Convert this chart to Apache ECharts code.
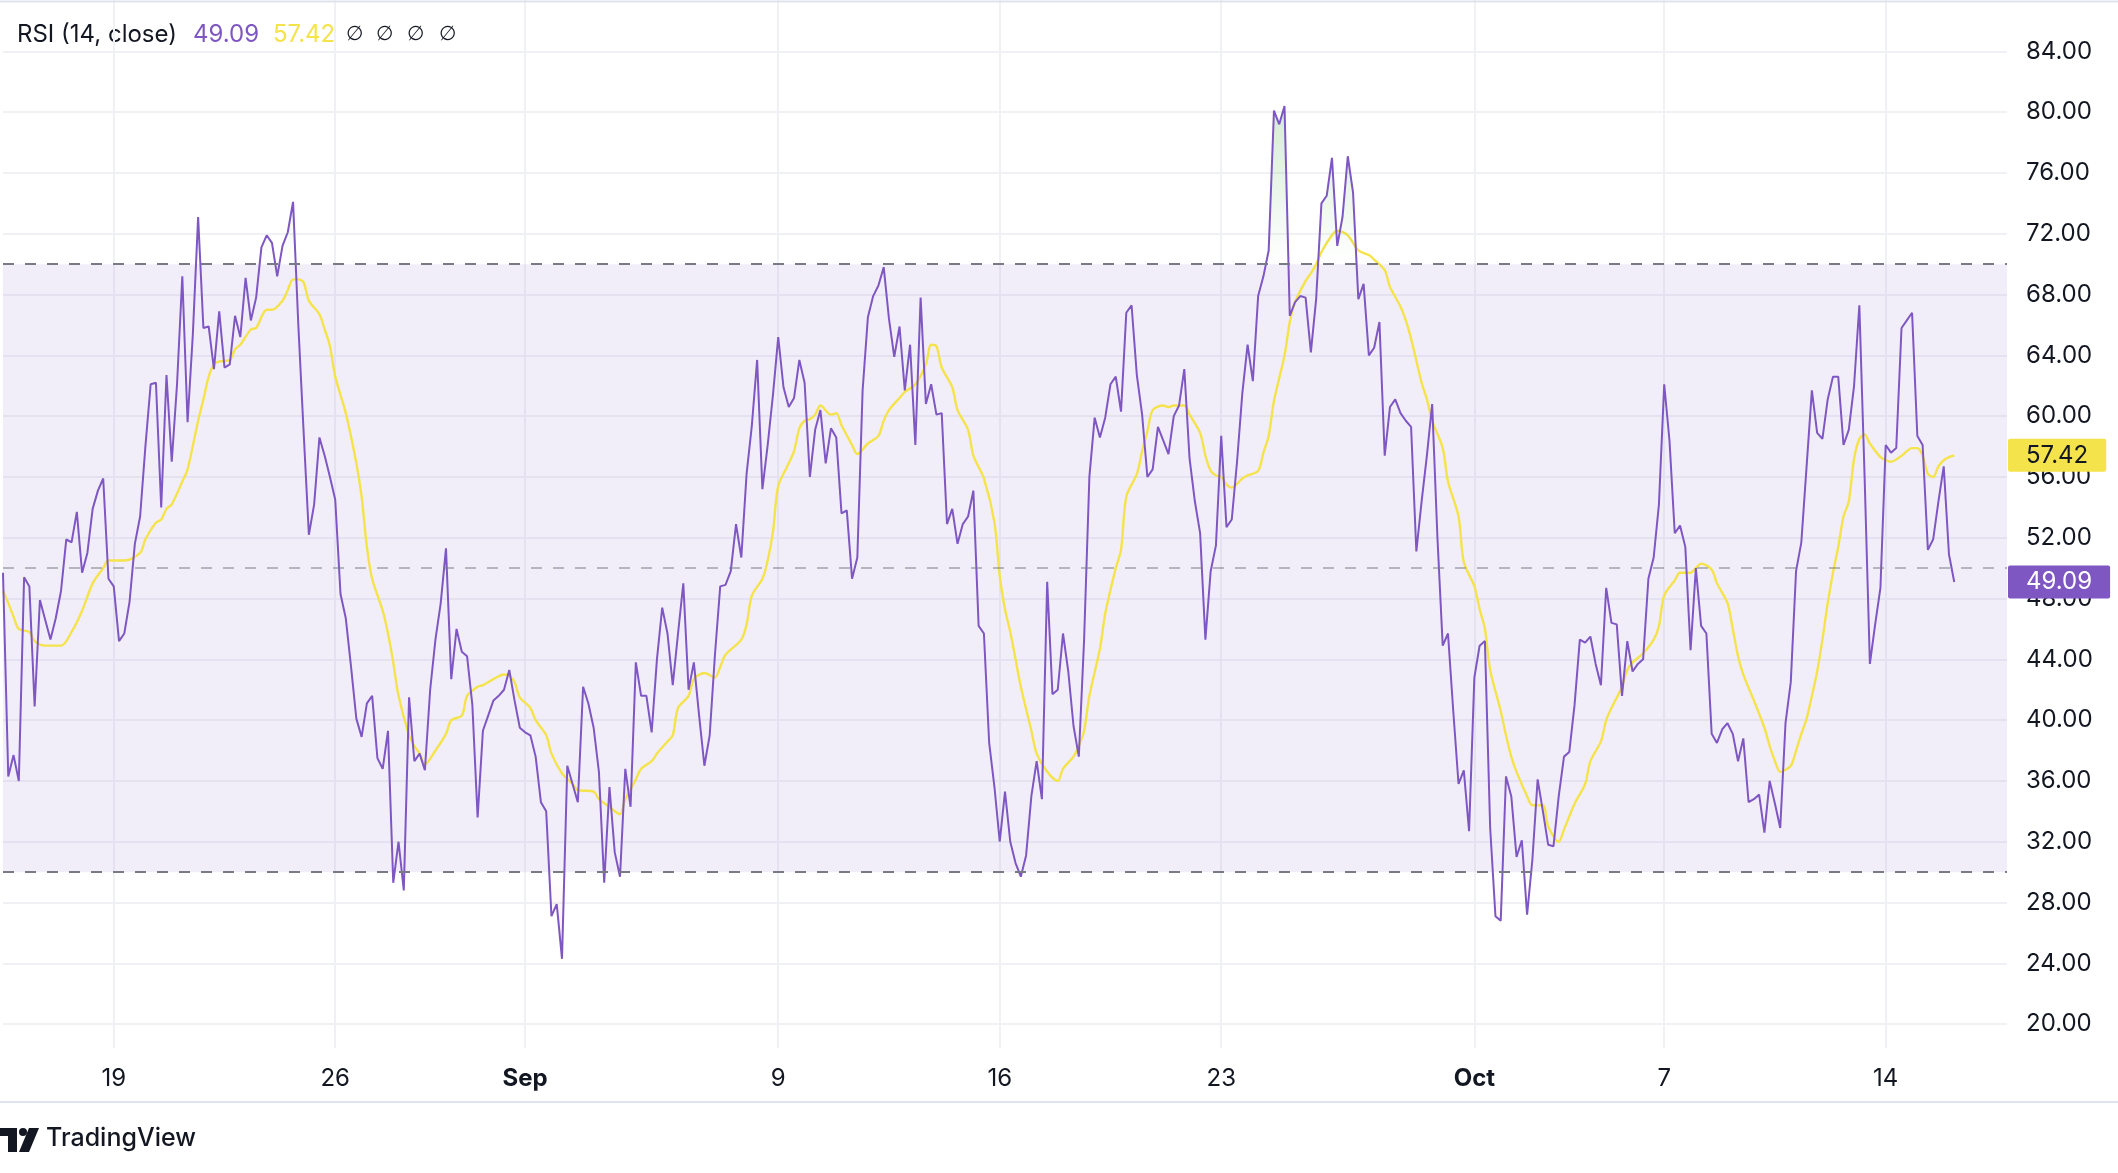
<!DOCTYPE html>
<html><head><meta charset="utf-8">
<script src="https://cdn.jsdelivr.net/npm/echarts@6/dist/echarts.min.js"></script>
<style>html,body{margin:0;padding:0;background:#fff;}#c{width:2118px;height:1173px;}</style>
</head><body><div id="c"></div><script>
// RSI (14, close), 4h bars starting 2024-08-15 12:00
const rsi = [
49.7,36.3,37.7,36.0,49.4,48.8,40.9,47.9,46.6,45.3,
46.7,48.5,51.9,51.7,53.7,49.7,51.0,53.9,55.1,55.9,
49.3,48.8,45.2,45.7,47.8,51.6,53.4,58.0,62.1,62.2,
54.0,62.7,57.0,62.1,69.2,59.6,65.4,73.1,65.8,65.9,
63.1,66.9,63.2,63.4,66.6,65.2,69.1,66.3,67.8,71.1,
71.9,71.4,69.2,71.2,72.1,74.1,66.0,59.0,52.2,54.2,
58.6,57.4,56.0,54.5,48.3,46.7,43.5,40.1,38.9,41.1,
41.6,37.5,36.8,39.3,29.3,32.0,28.8,41.5,37.3,37.8,
36.7,42.0,45.3,47.7,51.3,42.7,46.0,44.5,44.2,41.0,
33.6,39.3,40.3,41.3,41.6,42.0,43.3,41.3,39.5,39.2,
39.0,37.6,34.6,34.0,27.1,27.9,24.3,37.0,35.8,34.6,
42.2,41.1,39.5,36.6,29.3,35.6,31.3,29.7,36.8,34.3,
43.8,41.6,41.6,39.2,44.0,47.4,45.7,42.3,45.7,49.0,
42.0,43.8,40.3,37.0,39.0,44.3,48.8,48.9,49.8,52.9,
50.7,56.2,59.4,63.7,55.2,58.1,61.4,65.2,61.9,60.6,
61.2,63.7,62.2,56.0,59.1,60.4,56.9,59.2,58.6,53.6,
53.8,49.3,50.7,61.7,66.5,67.9,68.6,69.8,66.4,63.9,
65.9,61.7,64.7,58.1,67.8,60.8,62.1,60.1,60.2,52.9,
53.9,51.6,52.9,53.4,55.1,46.2,45.7,38.5,35.6,32.0,
35.3,32.0,30.6,29.7,31.1,35.0,37.3,34.8,49.1,41.7,
42.0,45.7,43.2,39.6,37.6,45.3,56.0,59.9,58.6,59.9,
62.1,62.6,60.3,66.8,67.3,62.7,60.1,56.0,56.5,59.3,
58.4,57.5,60.0,60.7,63.1,57.2,54.4,52.3,45.3,49.8,
51.5,58.7,52.7,53.2,57.0,61.5,64.7,62.3,67.9,69.2,
70.9,80.1,79.2,80.4,66.6,67.5,67.9,67.8,64.2,67.7,
74.0,74.5,77.0,71.2,73.1,77.1,74.7,67.7,68.7,64.0,
64.5,66.2,57.4,60.6,61.1,60.2,59.7,59.3,51.1,54.4,
57.4,60.8,52.0,44.9,45.7,40.6,35.8,36.7,32.7,42.8,
44.9,45.2,32.9,27.1,26.8,36.3,35.0,31.0,32.1,27.2,
30.8,36.1,34.0,31.8,31.7,35.0,37.6,37.9,41.0,45.3,
45.1,45.5,43.7,42.3,48.7,46.4,46.3,41.6,45.2,43.2,
43.7,44.0,49.3,50.7,54.2,62.1,58.4,52.3,52.8,51.4,
44.6,50.0,46.2,45.7,39.1,38.5,39.4,39.8,39.1,37.3,
38.8,34.6,34.8,35.1,32.6,36.0,34.5,32.9,39.8,42.5,
49.8,51.7,56.7,61.7,58.9,58.5,61.1,62.6,62.6,58.1,
59.1,62.0,67.3,56.0,43.7,46.3,48.7,58.1,57.6,57.9,
65.8,66.3,66.8,58.7,58.1,51.2,51.9,54.4,56.7,50.9,49.09
];
// RSI-based MA, read as [bar index, value]
const rsiMA = [
[0,48.5],[1,47.7],[2,46.8],[3,46.0],[5,45.8],[6,45.2],[8,44.9],[11,44.9],[13,45.8],[15,47.2],
[17,49.0],[19,50.0],[20,50.5],[23,50.5],[26,51.0],[27,51.9],[29,53.0],[30,53.2],[31,53.9],[32,54.2],
[34,55.7],[35,56.5],[37,59.7],[38,61.1],[39,62.6],[40,63.4],[41,63.6],[43,63.7],[44,64.4],[45,64.7],
[47,65.7],[48,65.8],[50,67.0],[51,67.0],[53,67.6],[54,68.3],[55,69.0],[56,69.0],[57,68.8],[58,67.6],
[60,66.7],[61,65.7],[62,64.6],[63,62.6],[65,60.2],[67,56.9],[68,54.7],[69,51.4],[70,49.3],[72,47.2],
[73,45.7],[74,43.8],[75,41.6],[77,39.0],[78,38.3],[79,37.8],[80,37.1],[82,38.0],[84,39.1],[85,40.0],
[87,40.3],[88,41.6],[90,42.2],[91,42.3],[93,42.7],[95,43.0],[96,42.9],[97,42.5],[98,41.5],[100,40.8],
[101,40.0],[103,39.0],[104,37.8],[106,36.5],[108,35.8],[109,35.4],[112,35.3],[113,34.8],[115,34.3],[116,34.0],
[117,33.8],[118,34.8],[120,36.1],[121,36.8],[123,37.3],[124,37.8],[126,38.6],[127,39.0],[128,40.8],[130,41.6],
[131,42.7],[133,43.1],[135,42.8],[136,43.5],[137,44.3],[140,45.3],[141,46.3],[142,48.2],[144,49.3],[145,50.5],
[146,52.4],[147,55.4],[149,56.9],[150,57.7],[151,59.2],[152,59.7],[153,59.8],[154,60.1],[155,60.7],[157,60.1],
[158,60.2],[159,59.4],[161,58.1],[162,57.5],[164,58.2],[166,58.7],[167,59.7],[168,60.4],[170,61.2],[171,61.6],
[173,62.1],[175,63.4],[176,64.7],[177,64.6],[178,63.2],[180,61.9],[181,60.4],[183,59.1],[184,57.4],[186,55.9],
[188,53.0],[189,49.5],[190,47.3],[191,45.8],[192,44.0],[193,42.2],[195,39.3],[196,37.8],[198,36.6],[200,36.0],
[201,36.8],[203,37.6],[204,38.3],[205,39.3],[206,41.6],[208,44.7],[209,47.0],[211,50.0],[212,51.2],[213,54.7],
[215,56.2],[216,57.7],[217,59.0],[218,60.4],[220,60.7],[221,60.6],[222,60.7],[224,60.7],[225,60.1],[227,58.9],
[228,57.4],[229,56.4],[230,56.1],[231,56.0],[232,55.5],[233,55.3],[235,55.9],[236,56.1],[238,56.4],[239,57.6],
[240,58.7],[241,61.0],[243,64.0],[244,66.2],[245,67.5],[247,68.9],[248,69.4],[249,70.0],[250,70.8],[252,71.9],
[253,72.2],[255,71.9],[257,70.9],[259,70.6],[260,70.3],[262,69.6],[263,68.5],[265,67.2],[266,66.3],[267,65.1],
[269,62.2],[270,61.1],[271,59.7],[273,57.9],[274,55.7],[276,53.4],[277,50.4],[279,48.8],[280,47.3],[281,46.0],
[282,43.3],[284,40.6],[285,39.0],[286,37.6],[287,36.6],[289,35.0],[290,34.4],[292,34.4],[293,33.0],[295,32.0],
[296,32.8],[298,34.5],[300,35.8],[301,37.3],[303,38.6],[304,40.0],[305,40.8],[307,42.2],[308,43.3],[309,43.8],
[311,44.4],[313,45.3],[314,46.2],[315,48.2],[317,49.2],[318,49.7],[320,49.7],[321,50.0],[322,50.3],[324,49.9],
[325,49.0],[327,47.7],[328,46.0],[329,44.2],[330,43.0],[332,41.3],[334,39.5],[335,38.3],[336,37.3],[337,36.6],
[339,37.0],[340,38.0],[341,39.1],[342,40.1],[343,41.6],[344,43.2],[345,45.3],[346,47.7],[347,49.7],[348,51.4],
[349,53.4],[350,54.4],[351,57.2],[352,58.5],[353,58.8],[354,58.2],[356,57.3],[357,57.1],[358,57.0],[360,57.4],
[362,57.9],[363,57.9],[364,57.4],[365,56.2],[366,56.0],[367,56.7],[368,57.1],[369,57.3],[370,57.42]
];
const tickIndex = [21, 63, 99, 147, 189, 231, 279, 315, 357];
const tickLabels = ['19', '26', 'Sep', '9', '16', '23', 'Oct', '7', '14'];
const monthLabels = ['Sep', 'Oct'];
const yTicks = [20, 24, 28, 32, 36, 40, 44, 48, 52, 56, 60, 64, 68, 72, 76, 80, 84];
const bandUpper = 70, bandMiddle = 50, bandLower = 30;
const lastRsi = 49.09, lastMA = 57.42;

const barCount = 381; // visible slots incl. empty right margin
const t0 = Date.UTC(2024, 7, 15, 12);
const categories = [];
for (let i = 0; i < barCount; i++) {
  categories.push(new Date(t0 + i * 4 * 3600e3).toISOString().slice(0, 16).replace('T', ' '));
}

const FONT = 'Inter, Roboto, "Noto Sans", sans-serif';
const TXT = '#131722';
const PURPLE = '#7e57c2';
const YELLOW = '#f5e34b';
const isTick = (i) => tickIndex.indexOf(i) >= 0;

const chart = echarts.init(document.getElementById('c'));
const option = {
  animation: false,
  backgroundColor: '#ffffff',
  grid: { left: 3, right: 111, top: 0, bottom: 125, containLabel: false },
  xAxis: {
    type: 'category', data: categories, boundaryGap: false,
    axisLine: { show: false }, axisTick: { show: false },
    axisLabel: {
      interval: (i) => isTick(i), margin: 19, color: TXT, fontSize: 24, fontFamily: FONT,
      formatter: (v, i) => {
        const l = tickLabels[tickIndex.indexOf(i)];
        return monthLabels.indexOf(l) >= 0 ? '{b|' + l + '}' : l;
      },
      rich: { b: { fontWeight: 'bold', fontSize: 24, fontFamily: FONT, color: TXT } }
    },
    splitLine: { show: true, interval: (i) => isTick(i), lineStyle: { color: '#f0f1f5', width: 2 } }
  },
  yAxis: {
    type: 'value', position: 'right', min: 18.43, max: 87.38,
    axisLine: { show: false },
    axisTick: { show: false, customValues: yTicks },
    axisLabel: { customValues: yTicks, formatter: (v) => v.toFixed(2), color: TXT, fontSize: 24,
      fontFamily: FONT, margin: 19, align: 'left' },
    splitLine: { show: true, lineStyle: { color: '#f0f1f5', width: 2 } }
  },
  graphic: [
    { type: 'line', shape: { x1: 0, y1: 1.5, x2: 2118, y2: 1.5 }, style: { stroke: '#e0e3eb', lineWidth: 2 }, z: 10 },
    { type: 'line', shape: { x1: 0, y1: 1102, x2: 2118, y2: 1102 }, style: { stroke: '#e0e3eb', lineWidth: 2 }, z: 10 },
    { type: 'text', left: 17, top: 23, style: { text: 'RSI (14, close)', fill: TXT, font: '24px ' + FONT } },
    { type: 'text', left: 193, top: 23, style: { text: lastRsi.toFixed(2), fill: PURPLE, font: '24px ' + FONT } },
    { type: 'text', left: 273, top: 23, style: { text: lastMA.toFixed(2), fill: YELLOW, font: '24px ' + FONT } },
    { type: 'text', left: 346, top: 25, style: { text: '∅', fill: TXT, font: '20px "DejaVu Sans"' } },
    { type: 'text', left: 376, top: 25, style: { text: '∅', fill: TXT, font: '20px "DejaVu Sans"' } },
    { type: 'text', left: 407, top: 25, style: { text: '∅', fill: TXT, font: '20px "DejaVu Sans"' } },
    { type: 'text', left: 439, top: 25, style: { text: '∅', fill: TXT, font: '20px "DejaVu Sans"' } },
    // TradingView logo
    { type: 'polygon', shape: { points: [[0,1128],[17,1128],[17,1152],[8,1152],[8,1136],[0,1136]] }, style: { fill: TXT } },
    { type: 'circle', shape: { cx: 23, cy: 1132, r: 4 }, style: { fill: TXT } },
    { type: 'polygon', shape: { points: [[29,1128],[39,1128],[29,1152],[19,1152]] }, style: { fill: TXT } },
    { type: 'text', left: 46, top: 1126, style: { text: 'TradingView', fill: TXT, font: '500 25px ' + FONT } }
  ],
  series: [
    {
      id: 'rsi', name: 'RSI', type: 'line', data: rsi, symbol: 'none', clip: false, z: 3,
      lineStyle: { color: PURPLE, width: 2 },
      markArea: { silent: true, itemStyle: { color: 'rgba(126,87,194,0.1)' },
        data: [[{ yAxis: bandLower }, { yAxis: bandUpper }]] },
      markLine: {
        silent: true, symbol: ['none', 'none'], animation: false,
        data: [
          { yAxis: bandUpper, lineStyle: { color: '#787b86', width: 2, type: [11, 11] }, label: { show: false } },
          { yAxis: bandLower, lineStyle: { color: '#787b86', width: 2, type: [11, 11] }, label: { show: false } },
          { yAxis: bandMiddle, lineStyle: { color: 'rgba(120,123,134,0.5)', width: 2, type: [11, 11] }, label: { show: false } },
          { yAxis: lastRsi, lineStyle: { color: 'rgba(0,0,0,0)', width: 1 },
            label: { show: true, position: 'end', distance: 1, formatter: lastRsi.toFixed(2),
              backgroundColor: PURPLE, color: '#ffffff', fontSize: 24, fontFamily: FONT,
              padding: [5, 18, 4, 18], borderRadius: 2 } }
        ]
      }
    },
    {
      id: 'ma', name: 'RSI-based MA', type: 'line', data: rsiMA, symbol: 'none', smooth: 0.3, clip: false, z: 2,
      lineStyle: { color: YELLOW, width: 2.4 },
      markLine: {
        silent: true, symbol: ['none', 'none'], animation: false,
        data: [
          { yAxis: lastMA, lineStyle: { color: 'rgba(0,0,0,0)', width: 1 },
            label: { show: true, position: 'end', distance: 1, formatter: lastMA.toFixed(2),
              backgroundColor: YELLOW, color: TXT, fontSize: 24, fontFamily: FONT,
              padding: [5, 18, 4, 18], borderRadius: 2 } }
        ]
      }
    }
  ]
};
chart.setOption(option);
const yTop = chart.convertToPixel({ yAxisIndex: 0 }, 100);
const yBot = chart.convertToPixel({ yAxisIndex: 0 }, 0);
chart.setOption({ series: [{ id: 'rsi', areaStyle: { origin: bandUpper,
  color: new echarts.graphic.LinearGradient(0, yTop, 0, yBot, [
    { offset: 0, color: 'rgba(76,175,80,1)' },
    { offset: 0.3, color: 'rgba(76,175,80,0)' },
    { offset: 0.3, color: 'rgba(255,82,82,0)' },
    { offset: 0.7, color: 'rgba(255,82,82,0)' },
    { offset: 1, color: 'rgba(255,82,82,1)' }
  ], true) } }] });
</script></body></html>
